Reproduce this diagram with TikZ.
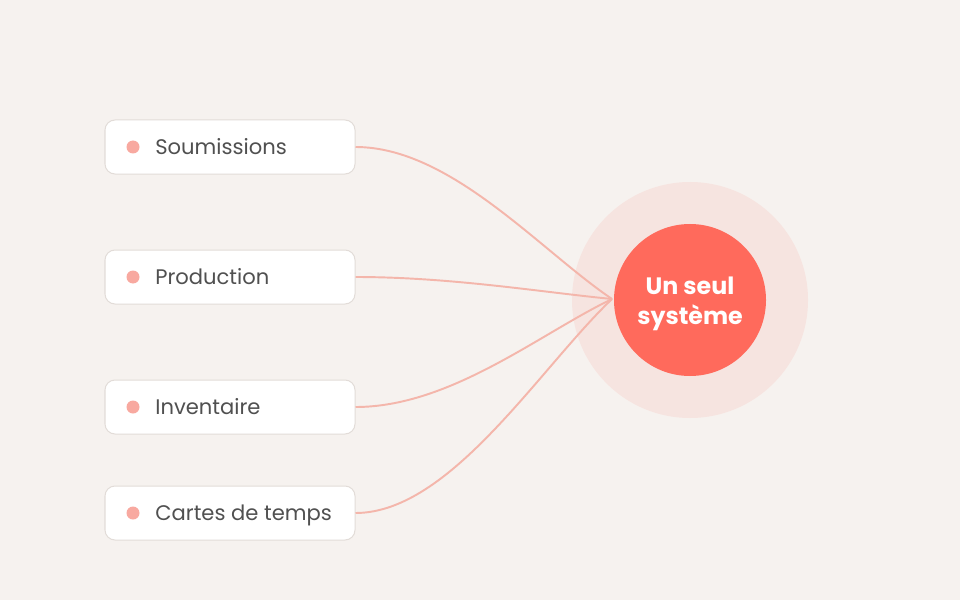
\documentclass[tikz,border=0pt]{standalone}
\usepackage{fontspec}
\setmainfont{Poppins}
\definecolor{bgcolor}{HTML}{F6F2EF}
\definecolor{halocolor}{HTML}{F6E4E0}
\definecolor{hubcolor}{HTML}{FF6A5C}
\definecolor{linkcolor}{HTML}{F4B6AB}
\definecolor{dotcolor}{HTML}{F8A9A0}
\definecolor{boxline}{HTML}{E2DCD8}
\definecolor{textcolor}{HTML}{505050}
\tikzset{
    itembox/.style={draw=boxline,line width=0.2mm,fill=white,rounded corners=2mm,
        minimum width=50mm,minimum height=10.8mm,inner sep=0pt},
    itemtext/.style={anchor=west,inner sep=0pt,text=textcolor,font=\fontsize{12}{14}\selectfont,
        text height=1.6ex,text depth=0.4ex},
    hubnode/.style={circle,fill=hubcolor,minimum size=30.4mm,inner sep=0pt},
    hubtext/.style={align=center,inner sep=0pt,text=white,font=\bfseries\fontsize{13.5}{17}\selectfont},
    link/.style={draw=linkcolor,line width=1.1pt}
}
\begin{document}
\begin{tikzpicture}[x=0.2mm,y=-0.2mm]
        \def\boxX{230}
        \def\dotX{133}
        \def\textX{155}
        \def\joinY{299}

        \fill[bgcolor] (0,0) rectangle (960,600);
        \fill[halocolor] (690,300) circle (118);
        \coordinate (join) at (612,\joinY);

        \foreach \y/\name [count=\i] in {147/Soumissions,277/Production,407/Inventaire,513/Cartes de temps} {
                \node[itembox] (item\i) at (\boxX,\y) {};
                \fill[dotcolor] (\dotX,\y) circle (6.5);
                \node[itemtext] (label\i) at (\textX,\y+1.5) {\name};
                \draw[link] (item\i.east) .. controls +(95,0) and +(-72,{(\y-\joinY)*0.32}) .. (join);
            }

        \node[hubnode] (hub) at (690,300) {};
        \node[hubtext] (hubtext) at (690,304) {Un seul\\système};

    \end{tikzpicture}
\end{document}
